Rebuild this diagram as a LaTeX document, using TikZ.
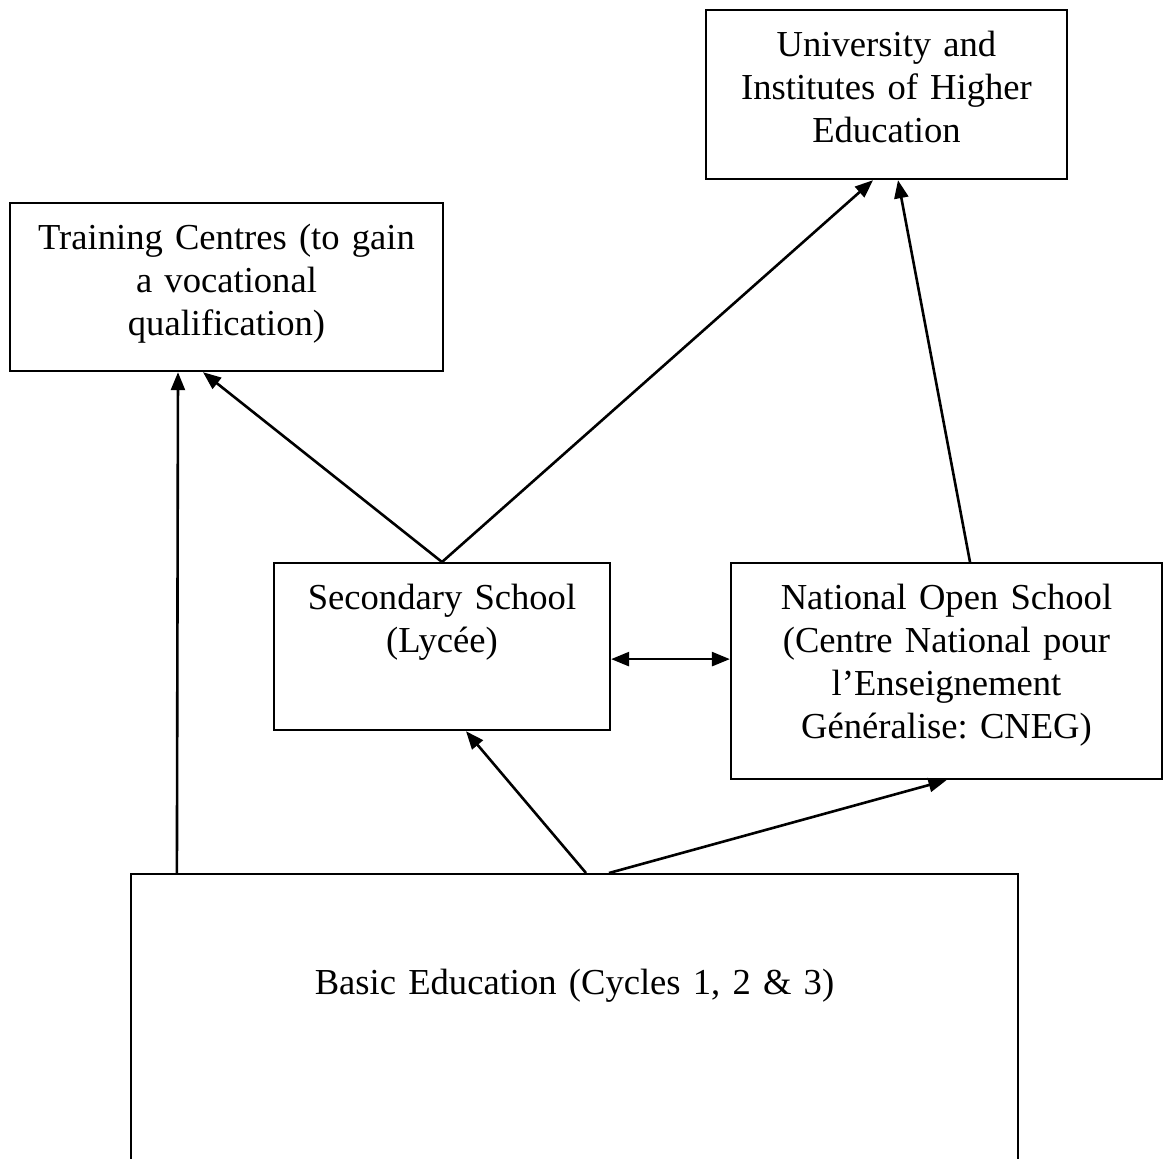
\documentclass[tikz,border=0pt]{standalone}
\usepackage{fontspec}
\setmainfont{Liberation Serif}
\usetikzlibrary{arrows.meta}
\tikzset{>={Triangle[length=9pt,width=7pt]}}
\frenchspacing
\begin{document}
\begin{tikzpicture}[x=.5pt,y=-.5pt,line width=1.3pt,
	box/.style={draw,line width=1.1pt,anchor=north,inner sep=0,align=center,font=\fontsize{18.3}{21.5}\selectfont,text height=23pt}]
	\useasboundingbox(0,0)rectangle(1163,1158);
	\node[box,text width=180.5pt,text depth=61.5pt](uni)at(886.5,9){University and\\Institutes of Higher\\Education};
	\node[box,text width=216.5pt,text depth=61pt](train)at(226.5,202){Training Centres (to gain\\a vocational\\qualification)};
	\node[box,text width=168pt,text depth=60.5pt](sec)at(442,562){Secondary School\\(Lycée)};
	\node[box,text width=215.5pt,text depth=85pt](nos)at(946.5,562){National Open School\\(Centre National pour\\l’Enseignement\\Généralise: CNEG)};
	\node[box,text width=443.5pt,text height=60pt,text depth=103.5pt](basic)at(574.5,873){Basic Education (Cycles 1, 2 \& 3)};
	\draw[->]([xshift=23.5pt]basic.north west)--([xshift=-24.25pt]train.south);
	\draw[->](sec.north)--([xshift=-11.75pt]train.south);
	\draw[->](sec.north)--([xshift=-6.75pt]uni.south);
	\draw[->]([xshift=11.75pt]nos.north)--([xshift=5.75pt]uni.south);
	\draw[<->]([yshift=-6.25pt]sec.east)--([yshift=6pt]nos.west);
	\draw[->]([xshift=5.75pt]basic.north)--([xshift=12pt]sec.south);
	\draw[->]([xshift=17.25pt]basic.north)--(nos.south);
\end{tikzpicture}
\end{document}
